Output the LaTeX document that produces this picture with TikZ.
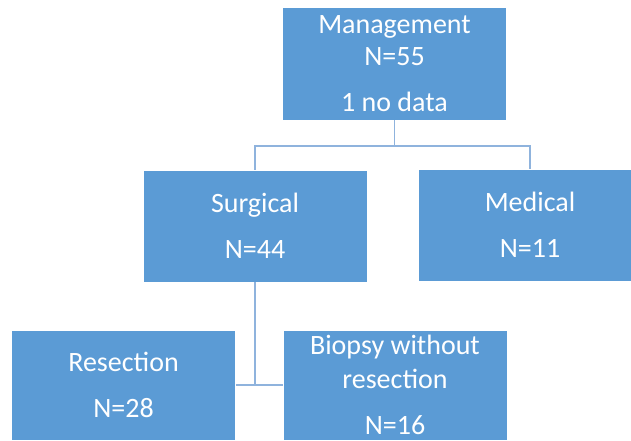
\documentclass[tikz,border=0pt]{standalone}
\usepackage{fontspec}
\setmainfont{Carlito}
\usepackage{tikz}
\definecolor{boxblue}{HTML}{5B9BD5}
\definecolor{linkblue}{HTML}{8FB3DD}

\begin{document}
\begin{tikzpicture}[x=0.75pt,y=-0.75pt,
		box/.style={rectangle,draw=white,line width=0.4pt,fill=boxblue,text=white,inner sep=0pt,
			minimum width=168pt,minimum height=84pt,align=center,
			font=\fontsize{21}{25.5}\selectfont},
		link/.style={draw=linkblue,line width=1.1pt}]
			\clip (0,0) rectangle (631,440);
			
			% top
			
			\node[box,minimum height=85pt] (M) at (394.5,63.5) {Management\\[-2pt]N=55\\[9pt]1 no data};
			
			% treatment
			
			\node[box] (S) at (255,226) {Surgical\\[9pt]N=44};
			\node[box] (D) at (530,225) {Medical\\[9pt]N=11};
			\coordinate (J1) at (394.5,146);
			\draw[link] (M.south) -- (J1) -| (S.north);
			\draw[link] (J1) -| (D.north);
			
			% surgery
			
			\node[box,minimum height=82.5pt] (R) at (123.5,385) {Resection\\[9pt]N=28};
			\node[box,minimum height=82.5pt] (B) at (395,385) {Biopsy without\\resection\\[9pt]N=16};
			\coordinate (J2) at (255,385);
			\draw[link] (S.south) -- (J2);
			\draw[link] (R.east) -- (B.west);
			
		\end{tikzpicture}
\end{document}
